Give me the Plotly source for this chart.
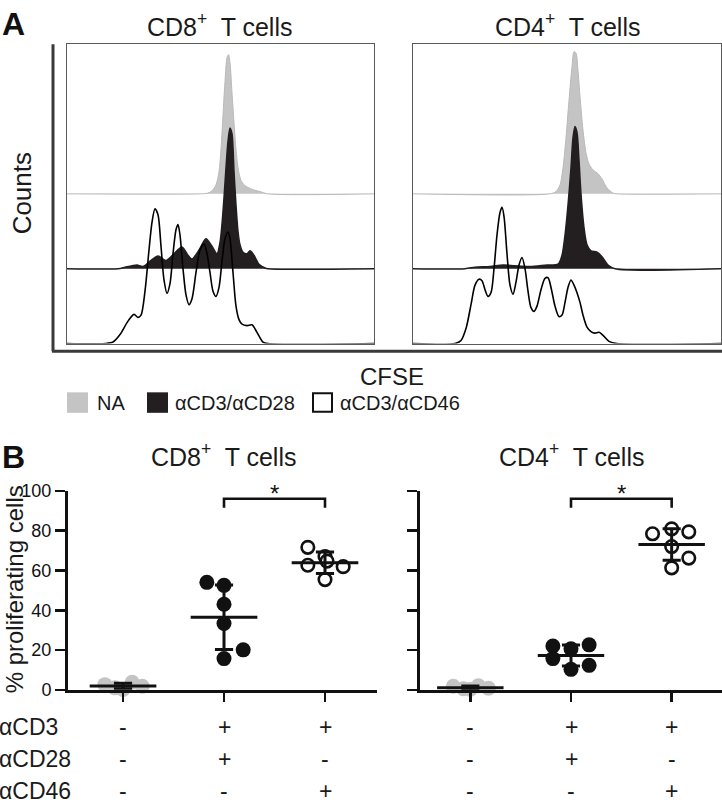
import numpy as np
import plotly.graph_objects as go

W, H = 722, 811

# ---------------- Panel A: CFSE histograms (offset overlays) ----------------
# CFSE intensity (a.u.) and relative counts; each condition is offset by 1 unit
cd8_na_x = [0, 133, 141, 145, 149, 152, 154, 156, 158, 160, 161.5, 163, 165, 167, 169, 171, 174, 178, 185, 193, 201, 307]
cd8_na_y = [0, 0, 0.01, 0.04, 0.12, 0.3, 0.6, 1.05, 1.5, 1.82, 1.86, 1.75, 1.35, 0.95, 0.6, 0.35, 0.18, 0.11, 0.06, 0.03, 0, 0]

cd8_cd28_x = [0, 51, 58, 65, 70, 76, 83, 91, 99, 107, 115, 121, 125, 132, 139, 145, 150, 153, 155, 157, 159, 161, 163, 165, 167, 169, 171, 173, 176, 180, 183, 187, 192, 198, 201, 307]
cd8_cd28_y = [0, 0, 0.02, 0.04, 0.05, 0.03, 0.1, 0.17, 0.11, 0.2, 0.29, 0.18, 0.13, 0.25, 0.4, 0.3, 0.2, 0.35, 0.6, 0.95, 1.35, 1.7, 1.88, 1.8, 1.3, 0.85, 0.5, 0.32, 0.22, 0.2, 0.24, 0.18, 0.06, 0.01, 0, 0]

cd8_cd46_x = [0, 38, 46, 53, 61, 67, 71, 74, 78, 82, 85, 88, 91, 94, 97, 100, 103, 106, 109, 111, 113, 116, 119, 122, 125, 129, 133, 137, 140, 143, 146, 149, 152, 155, 158, 161, 163, 166, 169, 172, 175, 180, 185, 190, 196, 201, 307]
cd8_cd46_y = [0, 0, 0.02, 0.12, 0.3, 0.39, 0.35, 0.38, 0.7, 1.25, 1.62, 1.8, 1.72, 1.3, 0.85, 0.67, 0.8, 1.2, 1.52, 1.59, 1.45, 1.0, 0.65, 0.52, 0.6, 0.95, 1.25, 1.33, 1.2, 0.95, 0.7, 0.63, 0.75, 1.1, 1.4, 1.49, 1.4, 0.95, 0.5, 0.32, 0.26, 0.24, 0.25, 0.15, 0.02, 0, 0]

cd4_na_x = [0, 137, 143, 147, 150, 153, 156, 159, 161, 163, 165, 167, 170, 173, 176, 180, 185, 189, 194, 200, 204, 308]
cd4_na_y = [0, 0, 0.03, 0.12, 0.35, 0.75, 1.25, 1.7, 1.9, 1.88, 1.65, 1.3, 0.85, 0.55, 0.4, 0.32, 0.27, 0.2, 0.08, 0.01, 0, 0]

cd4_cd28_x = [0, 52, 62, 77, 90, 102, 117, 134, 145, 149, 152, 155, 158, 160, 162, 164, 166, 168, 171, 174, 178, 184, 189, 195, 202, 308]
cd4_cd28_y = [0, 0, 0.02, 0.03, 0.05, 0.04, 0.03, 0.05, 0.06, 0.18, 0.45, 0.85, 1.35, 1.75, 1.9, 1.82, 1.45, 1.0, 0.55, 0.32, 0.24, 0.22, 0.16, 0.05, 0, 0]

cd4_cd46_x = [0, 42, 48, 53, 58, 62, 66, 69, 72, 75, 78, 81, 84, 87, 89, 91, 94, 97, 100, 103, 106, 109, 112, 115, 118, 121, 124, 128, 132, 135, 138, 142, 146, 149, 152, 155, 158, 161, 164, 167, 170, 174, 178, 182, 186, 190, 196, 204, 308]
cd4_cd46_y = [0, 0, 0.04, 0.2, 0.52, 0.78, 0.86, 0.84, 0.72, 0.63, 0.68, 1.0, 1.45, 1.75, 1.82, 1.7, 1.2, 0.78, 0.66, 0.82, 1.05, 1.15, 1.0, 0.7, 0.48, 0.43, 0.5, 0.72, 0.87, 0.88, 0.75, 0.5, 0.36, 0.38, 0.55, 0.75, 0.85, 0.78, 0.68, 0.55, 0.38, 0.22, 0.16, 0.14, 0.15, 0.11, 0.03, 0, 0]

hist_conditions = ["NA", "αCD3/αCD28", "αCD3/αCD46"]
hist_offsets = [2, 1, 0]

# ---------------- Panel B: % proliferating cells ----------------
groups = ["NA", "αCD3/αCD28", "αCD3/αCD46"]
cd8_na = [2.6, 1.0, 0.2, 3.8, 1.8]
cd8_na_jit = [-0.18, -0.08, 0.0, 0.09, 0.19]
cd8_cd28 = [54.0, 52.5, 43.0, 33.3, 20.1, 15.7]
cd8_cd28_jit = [-0.17, 0.0, 0.0, 0.0, 0.19, 0.0]
cd8_cd46 = [71.6, 67.0, 62.6, 64.7, 61.9, 55.4]
cd8_cd46_jit = [-0.17, 0.0, -0.17, 0.02, 0.18, 0.0]

cd4_na = [1.8, 0.5, 0.3, 2.0, 0.8]
cd4_na_jit = [-0.17, -0.07, 0.0, 0.08, 0.18]
cd4_cd28 = [22.0, 15.7, 20.6, 10.3, 22.6, 12.3]
cd4_cd28_jit = [-0.18, -0.18, 0.0, 0.0, 0.18, 0.18]
cd4_cd46 = [78.4, 80.9, 79.4, 72.0, 66.2, 61.3]
cd4_cd46_jit = [-0.19, 0.0, 0.17, 0.0, 0.17, 0.0]

y_ticks = [0, 20, 40, 60, 80, 100]
row_labels = ["αCD3", "αCD28", "αCD46"]
row_signs = [["-", "+", "+"], ["-", "+", "-"], ["-", "-", "+"]]

FONT = "Liberation Sans, Arial, Helvetica, sans-serif"
GRAY = "#c4c4c4"
BLACK = "#231f20"


def fx(p):
    return p / W


def fy(p):
    return 1 - p / H


fig = go.Figure()

# ---- histograms ----
hist_sets = [
    ("x", "y", [(cd8_na_x, cd8_na_y), (cd8_cd28_x, cd8_cd28_y), (cd8_cd46_x, cd8_cd46_y)]),
    ("x2", "y2", [(cd4_na_x, cd4_na_y), (cd4_cd28_x, cd4_cd28_y), (cd4_cd46_x, cd4_cd46_y)]),
]
for xa, ya, sets in hist_sets:
    for i, (hx, hy) in enumerate(sets):
        base = hist_offsets[i]
        yy = [base + v for v in hy]
        if i == 0:
            fig.add_trace(go.Scatter(x=hx, y=yy, xaxis=xa, yaxis=ya, mode="lines",
                                     line=dict(color="#b9b9b9", width=1, shape="spline", smoothing=0.8),
                                     fill="toself", fillcolor=GRAY, showlegend=False, hoverinfo="skip"))
        elif i == 1:
            fig.add_trace(go.Scatter(x=hx, y=yy, xaxis=xa, yaxis=ya, mode="lines",
                                     line=dict(color=BLACK, width=1.5, shape="spline", smoothing=0.8),
                                     fill="toself", fillcolor=BLACK, showlegend=False, hoverinfo="skip"))
        else:
            fig.add_trace(go.Scatter(x=hx, y=yy, xaxis=xa, yaxis=ya, mode="lines",
                                     line=dict(color="#000000", width=1.6, shape="spline", smoothing=0.8),
                                     showlegend=False, hoverinfo="skip"))

# ---- dot plots ----
dot_sets = [
    ("x3", "y3", [(cd8_na, cd8_na_jit), (cd8_cd28, cd8_cd28_jit), (cd8_cd46, cd8_cd46_jit)]),
    ("x4", "y4", [(cd4_na, cd4_na_jit), (cd4_cd28, cd4_cd28_jit), (cd4_cd46, cd4_cd46_jit)]),
]
for xa, ya, sets in dot_sets:
    for gi, (vals, jit) in enumerate(sets):
        xs = [gi + j for j in jit]
        if gi == 0:
            mk = dict(size=15, color=GRAY, line=dict(width=0))
        elif gi == 1:
            mk = dict(size=15, color="#111111", line=dict(width=0))
        else:
            mk = dict(size=12.5, color="white", line=dict(width=2.6, color="#111111"))
        fig.add_trace(go.Scatter(x=xs, y=vals, xaxis=xa, yaxis=ya, mode="markers", marker=mk,
                                 cliponaxis=False, showlegend=False, hoverinfo="skip"))
    for gi, (vals, jit) in enumerate(sets):
        m = float(np.mean(vals))
        s = float(np.std(vals, ddof=1))
        lx = [gi - 0.33, gi + 0.33, None, gi, gi, None, gi - 0.09, gi + 0.09, None, gi - 0.09, gi + 0.09]
        ly = [m, m, None, m - s, m + s, None, m + s, m + s, None, m - s, m - s]
        fig.add_trace(go.Scatter(x=lx, y=ly, xaxis=xa, yaxis=ya, mode="lines",
                                 line=dict(color="#111111", width=3), cliponaxis=False,
                                 showlegend=False, hoverinfo="skip"))
    # significance bracket
    fig.add_trace(go.Scatter(x=[1, 1, 2, 2], y=[91.5, 96, 96, 91.5], xaxis=xa, yaxis=ya, mode="lines",
                             line=dict(color="#111111", width=2.6), cliponaxis=False,
                             showlegend=False, hoverinfo="skip"))

# ---- layout ----
hist_ax = dict(range=[0, 307], showticklabels=False, ticks="", showgrid=False, zeroline=False,
               showline=True, mirror=True, linecolor="#5a5a5a", linewidth=1, fixedrange=True)
hist_ay = dict(range=[0, 4], showticklabels=False, ticks="", showgrid=False, zeroline=False,
               showline=True, mirror=True, linecolor="#5a5a5a", linewidth=1, fixedrange=True,
               domain=[fy(342), fy(35)])
dot_ax = dict(tickvals=[0, 1, 2], showticklabels=False, ticks="outside", ticklen=9, tickwidth=2.6,
              tickcolor="#111111", showline=True, linecolor="#111111", linewidth=3,
              showgrid=False, zeroline=False, fixedrange=True)
dot_ay = dict(range=[0, 100], tickvals=y_ticks, ticks="outside", ticklen=10, tickwidth=2.6,
              tickcolor="#111111", showline=True, linecolor="#111111", linewidth=3,
              showgrid=False, zeroline=False, domain=[fy(697), fy(493)], fixedrange=True,
              tickfont=dict(size=18, color="#111111", family=FONT))

fig.update_layout(
    width=W, height=H, margin=dict(l=0, r=0, t=0, b=0),
    paper_bgcolor="white", plot_bgcolor="rgba(0,0,0,0)", showlegend=False,
    font=dict(family=FONT, color="#1a1a1a"),
    xaxis=dict(hist_ax, domain=[fx(67), fx(374)], anchor="y"),
    yaxis=dict(hist_ay, anchor="x"),
    xaxis2=dict(hist_ax, domain=[fx(413), fx(721)], anchor="y2", range=[0, 308]),
    yaxis2=dict(hist_ay, anchor="x2"),
    xaxis3=dict(dot_ax, domain=[fx(68), fx(377)], range=[-0.545, 2.515], anchor="y3"),
    yaxis3=dict(dot_ay, anchor="x3", showticklabels=True),
    xaxis4=dict(dot_ax, domain=[fx(420), 1.0], range=[-0.5, 2.5], anchor="y4"),
    yaxis4=dict(dot_ay, anchor="x4", showticklabels=False),
)

shapes = []
# outer L-shaped axis of panel A
shapes.append(dict(type="line", xref="paper", yref="paper", x0=fx(53), x1=fx(53), y0=fy(35), y1=fy(350),
                   line=dict(color="#3a3a3a", width=3)))
shapes.append(dict(type="line", xref="paper", yref="paper", x0=fx(52), x1=1.0, y0=fy(350), y1=fy(350),
                   line=dict(color="#3a3a3a", width=3)))
# legend swatches
shapes.append(dict(type="rect", xref="paper", yref="paper", x0=fx(67), x1=fx(88), y0=fy(413), y1=fy(392),
                   fillcolor=GRAY, line=dict(width=0)))
shapes.append(dict(type="rect", xref="paper", yref="paper", x0=fx(147), x1=fx(168), y0=fy(413), y1=fy(392),
                   fillcolor=BLACK, line=dict(width=0)))
shapes.append(dict(type="rect", xref="paper", yref="paper", x0=fx(313), x1=fx(332), y0=fy(412), y1=fy(393),
                   fillcolor="white", line=dict(color="#111111", width=2)))
fig.update_layout(shapes=shapes)

ann = []


def text(x, y, s, size, **kw):
    d = dict(x=fx(x), y=fy(y), xref="paper", yref="paper", text=s, showarrow=False,
             font=dict(size=size, family=FONT, color=kw.pop("color", "#1a1a1a")),
             xanchor=kw.pop("xanchor", "center"), yanchor=kw.pop("yanchor", "middle"))
    d.update(kw)
    ann.append(d)


text(13, 14, "<b>A</b>", 32, color="#111111")
text(13, 458, "<b>B</b>", 32, color="#111111")
text(220, 15, "CD8<sup>+</sup>\u00a0 T cells", 25)
text(567, 15, "CD4<sup>+</sup>\u00a0 T cells", 25)
text(224, 456, "CD8<sup>+</sup>\u00a0 T cells", 25)
text(571, 456, "CD4<sup>+</sup>\u00a0 T cells", 25)
text(22, 188, "Counts", 26, textangle=-90)
text(392, 376, "CFSE", 24)
text(95, 403, hist_conditions[0], 20, xanchor="left")
text(173, 403, hist_conditions[1], 20, xanchor="left")
text(338, 403, hist_conditions[2], 20, xanchor="left")
text(14, 594, "% proliferating cells", 24, textangle=-90)

row_y = [735, 768, 801]
for r in range(3):
    text(-3, row_y[r], row_labels[r], 23, xanchor="left")
    for xa in ["x3", "x4"]:
        for c in range(3):
            ann.append(dict(x=c, y=fy(row_y[r]), xref=xa, yref="paper", text=row_signs[r][c],
                            showarrow=False, font=dict(size=23, family=FONT, color="#1a1a1a"),
                            xanchor="center", yanchor="middle"))

for xa, ya in [("x3", "y3"), ("x4", "y4")]:
    ann.append(dict(x=1.5, y=98.5, xref=xa, yref=ya, text="*", showarrow=False,
                    font=dict(size=24, family=FONT, color="#111111"), xanchor="center", yanchor="middle"))

fig.update_layout(annotations=ann)

fig.write_html("out.html", config={"displayModeBar": False, "staticPlot": True},
               post_script="document.body.style.margin='0';document.body.style.overflow='hidden';")
